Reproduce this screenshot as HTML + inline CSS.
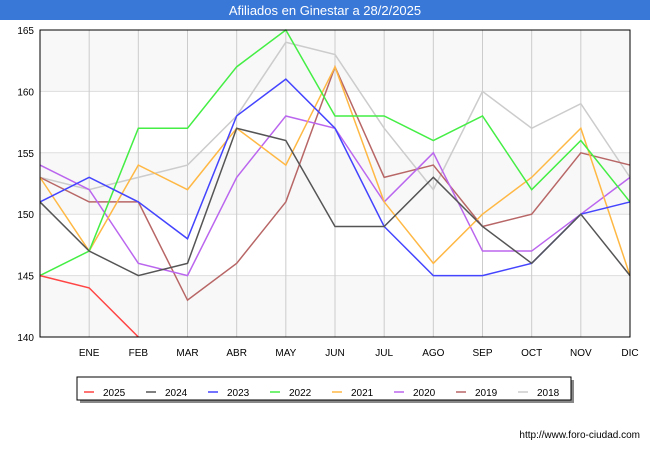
<!DOCTYPE html>
<html><head><meta charset="utf-8"><style>
body{margin:0;width:650px;height:450px;background:#fff;font-family:"Liberation Sans",sans-serif;overflow:hidden}
</style></head><body>
<svg width="650" height="450" xmlns="http://www.w3.org/2000/svg" font-family="Liberation Sans, sans-serif">
<rect x="0" y="0" width="650" height="20" fill="#3a78d8"/>
<text x="325" y="15" font-size="13" fill="#fff" text-anchor="middle">Afiliados en Ginestar a 28/2/2025</text>
<g id="plot"></g>
<text x="640" y="438" font-size="10" text-anchor="end" fill="#000">http://www.foro-ciudad.com</text>
</svg>
<script>
const categories=["","ENE","FEB","MAR","ABR","MAY","JUN","JUL","AGO","SEP","OCT","NOV","DIC"];
const yTicks=[140,145,150,155,160,165];
const seriesNames=["2025","2024","2023","2022","2021","2020","2019","2018"];
const seriesColors=["#ff4444","#555555","#4444ff","#44ee44","#ffb844","#bb66ee","#b86666","#cccccc"];
const s2025=[145,144,140];
const s2024=[151,147,145,146,157,156,149,149,153,149,146,150,145];
const s2023=[151,153,151,148,158,161,157,149,145,145,146,150,151];
const s2022=[145,147,157,157,162,165,158,158,156,158,152,156,151];
const s2021=[153,147,154,152,157,154,162,151,146,150,153,157,145];
const s2020=[154,152,146,145,153,158,157,151,155,147,147,150,153];
const s2019=[153,151,151,143,146,151,162,153,154,149,150,155,154];
const s2018=[153,152,153,154,158,164,163,157,152,160,157,159,153];
const seriesData=[s2025,s2024,s2023,s2022,s2021,s2020,s2019,s2018];
const L=40,R=630,T=30,B=337,ymin=140,ymax=165;
const xS=i=>L+i*(R-L)/(categories.length-1);
const yS=v=>B-(v-ymin)/(ymax-ymin)*(B-T);
const NS="http://www.w3.org/2000/svg";
const g=document.getElementById('plot');
function mk(t,a){const e=document.createElementNS(NS,t);for(const k in a)e.setAttribute(k,a[k]);g.appendChild(e);return e;}
let e=mk('rect',{x:L,y:T,width:R-L,height:B-T,fill:'#ffffff'});


for(let k=0;k<yTicks.length-1;k+=2){
 e=mk('rect',{x:L,y:yS(yTicks[k+1]),width:R-L,height:yS(yTicks[k])-yS(yTicks[k+1]),fill:'#f8f8f8'});
 
 
}
yTicks.forEach(v=>{
 e=mk('line',{x1:L,x2:R,y1:yS(v),y2:yS(v),stroke:'#dddddd'});
 
 
 e=mk('text',{x:L-6,y:yS(v)+4,'font-size':10,'text-anchor':'end',fill:'#000'});
 e.textContent=v;
 
 
});
categories.forEach((c,i)=>{
 if(i>0){e=mk('line',{x1:xS(i),x2:xS(i),y1:T,y2:B,stroke:'#cccccc'});
 
 }
 e=mk('text',{x:xS(i),y:356,'font-size':10,'text-anchor':'middle',fill:'#000'});
 e.textContent=c;
 
 
});
for(let s=seriesData.length-1;s>=0;s--){
 const pts=seriesData[s].map((v,i)=>xS(i)+','+yS(v)).join(' ');
 e=mk('polyline',{points:pts,fill:'none',stroke:seriesColors[s],'stroke-width':1.5});
 
 
}
e=mk('rect',{x:L,y:T,width:R-L,height:B-T,fill:'none',stroke:'#000'});


e=mk('rect',{x:80,y:380,width:494,height:23,fill:'#888'});


e=mk('rect',{x:77,y:377,width:494,height:23,fill:'#fff',stroke:'#000'});


seriesNames.forEach((n,i)=>{
 const x0=84+i*62;
 e=mk('line',{x1:x0,x2:x0+10,y1:392,y2:392,stroke:seriesColors[i],'stroke-width':1.5});
 
 
 e=mk('text',{x:x0+19,y:396,'font-size':10,fill:'#000'});
 e.textContent=n;
 
 
});
</script>
</body></html>
